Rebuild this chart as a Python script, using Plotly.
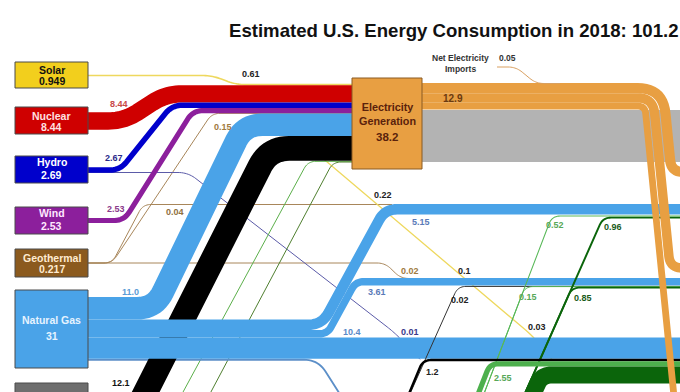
import numpy as np
import plotly.graph_objects as go

# ------------------------------------------------------------------ data
TITLE = "Estimated U.S. Energy Consumption in 2018: 101.2"

SOURCES = ["Solar", "Nuclear", "Hydro", "Wind", "Geothermal", "Natural Gas", "Coal"]
SOURCE_TOTALS = [0.949, 8.44, 2.69, 2.53, 0.217, 31, 13.2]

# flows into Electricity Generation, stacked top -> bottom
ELEC_IN_SOURCES = ["Solar", "Nuclear", "Hydro", "Wind", "Geothermal",
                   "Natural Gas", "Coal", "Biomass", "Petroleum"]
ELEC_IN_VALUES = [0.61, 8.44, 2.67, 2.53, 0.15, 11.0, 12.1, 0.44, 0.25]
ELEC_TOTAL = 38.2
ELEC_DELIVERED = 12.9
ELEC_REJECTED = 25.3
NET_IMPORTS = 0.05
ELEC_SECTORS = ["Residential", "Commercial", "Industrial"]
ELEC_SECTOR_VALUES = [4.97, 4.62, 3.31]

GAS_TARGETS = ["Electricity", "Residential", "Commercial", "Industrial", "Transportation"]
GAS_VALUES = [11.0, 5.15, 3.61, 10.4, 0.9]

SOLAR_SECTOR_VALUES = [0.22, 0.1, 0.03]      # residential, commercial, industrial
GEO_SECTOR_VALUES = [0.04, 0.02]             # residential, commercial
HYDRO_INDUSTRIAL = 0.01
COAL_SECTOR_VALUES = [0.02, 1.2]             # commercial, industrial
BIOMASS_SECTOR_VALUES = [0.52, 0.15, 2.55]   # residential, commercial, industrial
PETRO_SECTOR_VALUES = [0.96, 0.85, 8.3]      # residential, commercial, industrial

# ------------------------------------------------------------------ styling / layout
SCALE = 2.05            # px per quad
W, H = 680, 392
FONT = "Liberation Sans, Arial, sans-serif"

C = dict(
    solar_box="#F2CF1D", solar="#EED85E", nuclear="#CF0000", hydro="#0000CC",
    wind="#8C1F9C", geo_box="#8B5A1E", geo="#A8865A", gas="#4AA3E8",
    coal="#000000", coal_box="#6E6E6E", biomass="#4DB04D", petro="#0B650B",
    elec="#E89F42", reject="#B3B3B3", hydro_thin="#5B5BA8",
)
SRC_COLORS = [C["solar_box"], C["nuclear"], C["hydro"], C["wind"], C["geo_box"], C["gas"], C["coal_box"]]
SRC_TEXT = ["#111111", "#FFE0E0", "#FFFFFF", "#FFE8FF", "#FFEBD0", "#E6F3FF", "#FFFFFF"]
BOX_X0, BOX_X1 = 15, 88
BOX_Y = [(62, 88), (107, 134), (156, 183), (207, 234), (249, 277), (290, 368), (383, 411)]
NAME_Y = [70, 116, 162, 213, 258, 320, 392]
VAL_Y = [81, 127, 175, 226, 269, 336, 404]

ELEC_BOX = (352, 78, 422, 169)
ELEC_IN_TOP = 84.0
ELEC_OUT_TOP = 83.0
GAS_TOP = 297.0
RES_TOP, COMM_TOP = 204.0, 278.0
GAP = 1.0


def w(v):
    return v * SCALE


def stack_centers(top, values):
    out, cur = [], top
    for v in values:
        out.append(cur + w(v) / 2)
        cur += w(v)
    return out, cur


def rounded(points, radius, n=12):
    pts = [np.array(p, float) for p in points]
    radii = list(radius) if isinstance(radius, (list, tuple)) else [radius] * (len(pts) - 2)
    out = [pts[0]]
    for i in range(1, len(pts) - 1):
        p0, p1, p2 = pts[i - 1], pts[i], pts[i + 1]
        d1, d2 = p1 - p0, p2 - p1
        l1, l2 = np.hypot(*d1), np.hypot(*d2)
        r = min(radii[i - 1], l1 * 0.5, l2 * 0.5)
        a, b = p1 - d1 / l1 * r, p1 + d2 / l2 * r
        for t in np.linspace(0, 1, n):
            out.append((1 - t) ** 2 * a + 2 * t * (1 - t) * p1 + t ** 2 * b)
    out.append(pts[-1])
    arr = np.array(out)
    return arr[:, 0], arr[:, 1]


fig = go.Figure()


def flow(pts, value, color, r=10, minw=1.0):
    x, y = rounded(pts, r)
    fig.add_trace(go.Scatter(
        x=x, y=y, mode="lines", hoverinfo="skip", showlegend=False,
        line=dict(color=color, width=max(w(value), minw), simplify=False)))


# ---- stacks
ein, _ = stack_centers(ELEC_IN_TOP, ELEC_IN_VALUES)
gas_c, gas_bottom = stack_centers(GAS_TOP, GAS_VALUES)
res_gas_c = RES_TOP + w(GAS_VALUES[1]) / 2
comm_gas_c = COMM_TOP + w(GAS_VALUES[2]) / 2
res_thin, _ = stack_centers(RES_TOP + w(GAS_VALUES[1]) + GAP,
                            [BIOMASS_SECTOR_VALUES[0], PETRO_SECTOR_VALUES[0]])
comm_thin, _ = stack_centers(COMM_TOP + w(GAS_VALUES[2]) + GAP,
                             [COAL_SECTOR_VALUES[0], BIOMASS_SECTOR_VALUES[1], PETRO_SECTOR_VALUES[1]])
ind_top = gas_c[3] + w(GAS_VALUES[3]) / 2
ind_c, _ = stack_centers(ind_top, [COAL_SECTOR_VALUES[1], BIOMASS_SECTOR_VALUES[2], PETRO_SECTOR_VALUES[2]])

# ---- rejected energy (grey)
rej_c = ELEC_OUT_TOP + w(ELEC_DELIVERED) + 0.6 + w(ELEC_REJECTED) / 2
flow([(422, rej_c), (700, rej_c)], ELEC_REJECTED, C["reject"], r=0)

# ---- thin lines behind the big bands
geo_y = 263
flow([(88, geo_y), (112, geo_y), (212, ein[4]), (352, ein[4])], ELEC_IN_VALUES[4], C["geo"], r=8)
flow([(88, geo_y), (112, geo_y), (143, RES_TOP + 0.5), (392, RES_TOP + 0.5)], GEO_SECTOR_VALUES[0], C["geo"], r=8)
flow([(88, geo_y), (385, geo_y), (401, COMM_TOP + 0.5), (425, COMM_TOP + 0.5)], GEO_SECTOR_VALUES[1], C["geo"], r=8)
flow([(88, 172.5), (188, 172.5), (395, 333), (420, ind_top + 0.5)], HYDRO_INDUSTRIAL, C["hydro_thin"], r=10)
flow([(300, 139), (532, 335.5), (552, ind_top + 0.5)], sum(SOLAR_SECTOR_VALUES), C["solar"], r=8, minw=1.3)
flow([(176, 405), (308, ein[7]), (352, ein[7])], ELEC_IN_VALUES[7], "#5BAF4A", r=8)
flow([(204, 405), (333, ein[8]), (352, ein[8])], ELEC_IN_VALUES[8], "#4F7F2F", r=8)
flow([(88, gas_c[4]), (318, gas_c[4]), (350, 410)], GAS_VALUES[4], "#5C8FC8", r=14, minw=1.2)

# ---- bands into electricity generation
flow([(88, 75.5), (212, 75.5), (236, ein[0]), (352, ein[0])], ELEC_IN_VALUES[0], C["solar"], r=10, minw=1.6)
flow([(88, 121), (124, 121), (166, ein[1]), (352, ein[1])], ELEC_IN_VALUES[1], C["nuclear"], r=16)
flow([(88, 170), (120, 170), (172, ein[2]), (352, ein[2])], ELEC_IN_VALUES[2], C["hydro"], r=10)
flow([(88, 220.5), (124, 220.5), (193, ein[3]), (352, ein[3])], ELEC_IN_VALUES[3], C["wind"], r=10)
flow([(88, gas_c[0]), (155, gas_c[0]), (244, ein[5]), (352, ein[5])], GAS_VALUES[0], C["gas"], r=18)
flow([(129, 425), (269, ein[6]), (352, ein[6])], ELEC_IN_VALUES[6], C["coal"], r=20)

# ---- natural gas to end-use sectors
rx0, rx1 = 322.0, 385.0
s = (gas_c[1] - res_gas_c) / (rx1 - rx0)
off = (w(GAS_VALUES[1]) + w(GAS_VALUES[2])) / 2 * np.sqrt(1 + s * s) / s
flow([(88, gas_c[1]), (rx0, gas_c[1]), (rx1, res_gas_c), (700, res_gas_c)], GAS_VALUES[1], C["gas"], r=[14, 12])
flow([(88, gas_c[2]), (rx0 - (gas_c[2] - gas_c[1]) / s + off, gas_c[2]),
      (rx0 + (gas_c[1] - comm_gas_c) / s + off, comm_gas_c), (700, comm_gas_c)],
     GAS_VALUES[2], C["gas"], r=[8, 8])
flow([(88, gas_c[3]), (700, gas_c[3])], GAS_VALUES[3], C["gas"], r=0)

# ---- right side: coal, biomass, petroleum to sectors
flow([(396, 425), (458, comm_thin[0]), (700, comm_thin[0])], COAL_SECTOR_VALUES[0], "#333333", r=8)
bio_dx = 472.0
flow([(bio_dx, 425), (552, res_thin[0]), (700, res_thin[0])], BIOMASS_SECTOR_VALUES[0], "#58B858", r=8)
sb = (425 - res_thin[0]) / (552 - bio_dx)
flow([(bio_dx, 425), (bio_dx + (425 - comm_thin[1]) / sb, comm_thin[1]), (700, comm_thin[1])],
     BIOMASS_SECTOR_VALUES[1], "#58B858", r=8)
flow([(511, 425), (603, res_thin[1]), (700, res_thin[1])], PETRO_SECTOR_VALUES[0], C["petro"], r=8)
sp = (425 - res_thin[1]) / (603 - 511)
flow([(511, 425), (511 + (425 - comm_thin[2]) / sp, comm_thin[2]), (700, comm_thin[2])],
     PETRO_SECTOR_VALUES[1], C["petro"], r=8)
flow([(396, 425), (423, ind_c[0]), (700, ind_c[0])], COAL_SECTOR_VALUES[1], C["coal"], r=8)
flow([(466, 425), (490, ind_c[1]), (700, ind_c[1])], BIOMASS_SECTOR_VALUES[2], C["biomass"], r=8)
flow([(513, 438), (541.5, ind_c[2]), (700, ind_c[2])], PETRO_SECTOR_VALUES[2], C["petro"], r=10)

# ---- electricity to sectors (orange)
eo, _ = stack_centers(ELEC_OUT_TOP, ELEC_SECTOR_VALUES)
X_OUT, SLANT = 668.0, 0.1
cum = 0.0
xs = []
for v in ELEC_SECTOR_VALUES:
    xs.append(X_OUT - w(cum) - w(v) / 2)
    cum += v
turn_y = [172, 268, 440]
for i, v in enumerate(ELEC_SECTOR_VALUES):
    xt = xs[i] + SLANT * (turn_y[i] - eo[i])
    outer = w(sum(ELEC_SECTOR_VALUES[i + 1:])) + w(v) / 2
    if i < 2:
        flow([(422, eo[i]), (xs[i], eo[i]), (xt, turn_y[i]), (740, turn_y[i])], v, C["elec"],
             r=[4 + outer, 12])
    else:
        flow([(422, eo[i]), (xs[i], eo[i]), (xt, turn_y[i])], v, C["elec"], r=[4 + outer])
flow([(497, 67), (516, 67), (536, ELEC_OUT_TOP + 0.5), (560, ELEC_OUT_TOP + 0.5)], NET_IMPORTS, "#D9A060", r=8)

# ---- boxes
shapes = []
for i, name in enumerate(SOURCES):
    y0, y1 = BOX_Y[i]
    shapes.append(dict(type="rect", xref="x", yref="y", x0=BOX_X0, x1=BOX_X1, y0=y0, y1=y1,
                       fillcolor=SRC_COLORS[i], line=dict(color="#4A4A4A", width=1), layer="above"))
shapes.append(dict(type="rect", xref="x", yref="y", x0=ELEC_BOX[0], y0=ELEC_BOX[1], x1=ELEC_BOX[2],
                   y1=ELEC_BOX[3], fillcolor=C["elec"], line=dict(color="#8A5A22", width=1), layer="above"))

ann = []


def label(text, x, y, color="#111111", size=9, bold=True, xanchor="center"):
    ann.append(dict(x=x, y=y, xref="x", yref="y", text=f"<b>{text}</b>" if bold else text,
                    showarrow=False, xanchor=xanchor, yanchor="middle",
                    font=dict(family=FONT, size=size, color=color)))


for i, name in enumerate(SOURCES):
    if i == 6:
        continue
    label(name, 51.5, NAME_Y[i], SRC_TEXT[i], 10.5)
    label(f"{SOURCE_TOTALS[i]:g}", 51.5, VAL_Y[i], SRC_TEXT[i], 10.5)

label("Electricity<br>Generation", 387, 114, "#5A220C", 10.8)
label(f"{ELEC_TOTAL:g}", 387, 137, "#5A220C", 11.5)
label("Net Electricity", 460, 58, "#333333", 8.5)
label("Imports", 460, 69, "#333333", 8.5)
label(f"{NET_IMPORTS:g}", 507, 58, "#333333", 8.5)
label(f"{ELEC_DELIVERED:g}", 453, 98, "#6B3A10", 10)

label(f"{ELEC_IN_VALUES[0]:g}", 251, 74, "#222222", 9)
label(f"{ELEC_IN_VALUES[1]:g}", 119, 104, "#C84848", 9)
label(f"{ELEC_IN_VALUES[2]:g}", 114, 158, "#2A2A8A", 9)
label(f"{ELEC_IN_VALUES[3]:g}", 116, 209, "#8A3A8A", 9)
label(f"{ELEC_IN_VALUES[4]:g}", 223, 127, "#A07A40", 9)
label(f"{GEO_SECTOR_VALUES[0]:g}", 175, 212, "#907040", 9)
label(f"{GAS_VALUES[0]:.1f}", 130, 292, "#5A9BD5", 9)
label(f"{ELEC_IN_VALUES[6]:g}", 121, 383, "#111111", 9)

label(f"{SOLAR_SECTOR_VALUES[0]:g}", 383, 195, "#222222", 9)
label(f"{GAS_VALUES[1]:g}", 421, 222, "#5A7AB8", 9)
label(f"{GEO_SECTOR_VALUES[1]:g}", 410, 271, "#A07A40", 9)
label(f"{SOLAR_SECTOR_VALUES[1]:g}", 464, 271, "#222222", 9)
label(f"{GAS_VALUES[2]:g}", 377, 292, "#5A7AB8", 9)
label(f"{COAL_SECTOR_VALUES[0]:g}", 460, 300, "#222222", 9)
label(f"{BIOMASS_SECTOR_VALUES[1]:g}", 528, 297, "#58A858", 9)
label(f"{PETRO_SECTOR_VALUES[1]:g}", 583, 298, "#1A5A1A", 9)
label(f"{BIOMASS_SECTOR_VALUES[0]:g}", 555, 225, "#58A858", 9)
label(f"{PETRO_SECTOR_VALUES[0]:g}", 613, 227, "#1A5A1A", 9)
label(f"{GAS_VALUES[3]:g}", 352, 332, "#5A8AC8", 9)
label(f"{HYDRO_INDUSTRIAL:g}", 410, 332, "#3A3A8A", 9)
label(f"{SOLAR_SECTOR_VALUES[2]:g}", 537, 327, "#222222", 9)
label(f"{COAL_SECTOR_VALUES[1]:g}", 432, 372, "#222222", 9)
label(f"{BIOMASS_SECTOR_VALUES[2]:g}", 503, 378, "#58A858", 9)

ann.append(dict(x=227, y=30, xref="x", yref="y", text=f"<b>{TITLE}</b>", showarrow=False,
                xanchor="left", yanchor="middle", font=dict(family=FONT, size=18.6, color="#111111")))

fig.update_layout(
    width=W, height=H, margin=dict(l=0, r=0, t=0, b=0),
    paper_bgcolor="white", plot_bgcolor="white",
    xaxis=dict(range=[0, W], visible=False, fixedrange=True),
    yaxis=dict(range=[H, 0], visible=False, fixedrange=True),
    shapes=shapes, annotations=ann, showlegend=False,
)

fig.write_html("out.html", config={"displayModeBar": False, "staticPlot": True},
               post_script="document.body.style.margin='0';")
